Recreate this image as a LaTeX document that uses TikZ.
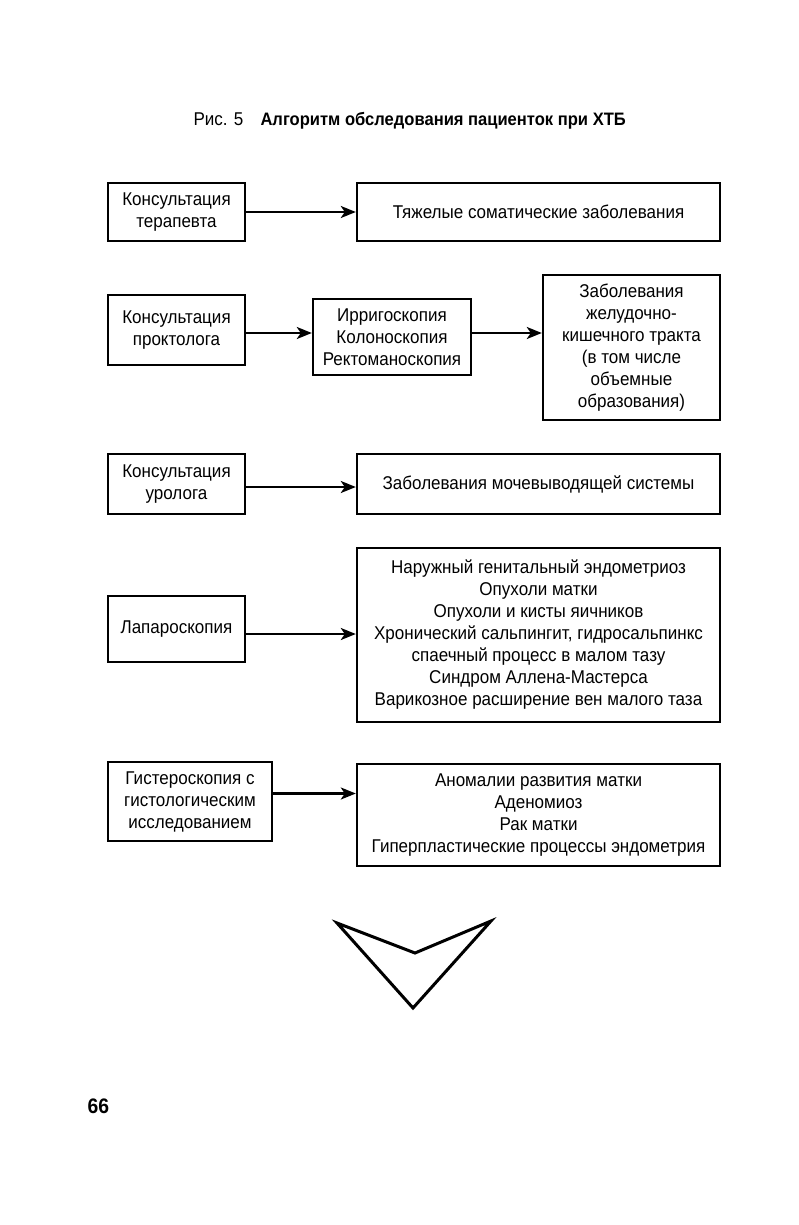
\documentclass[tikz,border=0pt]{standalone}
\usepackage{fontspec}
\setmainfont{Liberation Sans}[FakeStretch=0.92]
\usetikzlibrary{positioning,arrows.meta}

\tikzset{
  box/.style={draw,line width=2.4pt,inner sep=0pt,align=center,
    font=\fontsize{18.5}{22}\selectfont},
  arr/.style={-{Stealth[length=15pt,width=12pt,inset=4pt]},line width=2.4pt},
}

\begin{document}
\begin{tikzpicture}[x=1pt,y=-1pt]
\useasboundingbox (0,0) rectangle (799,1225);

\node[anchor=base west,font=\fontsize{18.5}{20}\selectfont](fig) at (190,126){Рис. 5};
\node[anchor=base west,font=\fontsize{18}{20}\selectfont\bfseries](title) at (257,126){Алгоритм обследования пациенток при ХТБ};

\node[box,minimum width=137,minimum height=58](ter) at (176.5,212){Консультация\\терапевта};
\node[box,minimum width=363,minimum height=58,right=109.6pt of ter](som){Тяжелые соматические заболевания};

\node[box,minimum width=137,minimum height=70](prokt) at (176.5,330){Консультация\\проктолога};
\node[box,minimum width=158,minimum height=76](irr) at (392,337){Ирригоскопия\\Колоноскопия\\Ректоманоскопия};
\node[box,minimum width=177,minimum height=145](zhkt) at (631.5,347.5){Заболевания\\желудочно-\\кишечного тракта\\(в том числе\\объемные\\образования)};

\node[box,minimum width=137,minimum height=60](urol) at (176.5,484){Консультация\\уролога};
\node[box,minimum width=363,minimum height=60,right=109.6pt of urol](mvs){Заболевания мочевыводящей системы};

\node[box,minimum width=137,minimum height=66](lap) at (176.5,629){Лапароскопия};
\node[box,minimum width=363,minimum height=174](gen) at (538.5,635){Наружный генитальный эндометриоз\\Опухоли матки\\Опухоли и кисты яичников\\Хронический сальпингит, гидросальпинкс\\спаечный процесс в малом тазу\\Синдром Аллена-Мастерса\\Варикозное расширение вен малого таза};

\node[box,minimum width=164,minimum height=79](gist) at (190,801.5){Гистероскопия с\\гистологическим\\исследованием};
\node[box,minimum width=363,minimum height=102](mat) at (538.5,815){Аномалии развития матки\\Аденомиоз\\Рак матки\\Гиперпластические процессы эндометрия};

% arrows
\draw[arr] (ter) -- (som);
\draw[arr] ([yshift=-3pt]prokt.east) -- ([yshift=-3pt]prokt.east -| irr.west);
\draw[arr] ([yshift=-3pt]prokt.east -| irr.east) -- ([yshift=-3pt]prokt.east -| zhkt.west);
\draw[arr] ([yshift=-3pt]urol.east) -- ([yshift=-3pt]urol.east -| mvs.west);
\draw[arr] ([yshift=-5pt]lap.east) -- ([yshift=-5pt]lap.east -| gen.west);
\draw[arr] ([yshift=8pt]gist.east) -- ([yshift=8pt]gist.east -| mat.west);

% chevron
\draw[line width=3pt,line join=miter] (337,923) -- (415,953) -- (491,921) -- (413,1008) -- cycle;

\node[anchor=base west,font=\fontsize{21}{21}\selectfont\bfseries](page) at (84,1113){66};
\end{tikzpicture}
\end{document}
